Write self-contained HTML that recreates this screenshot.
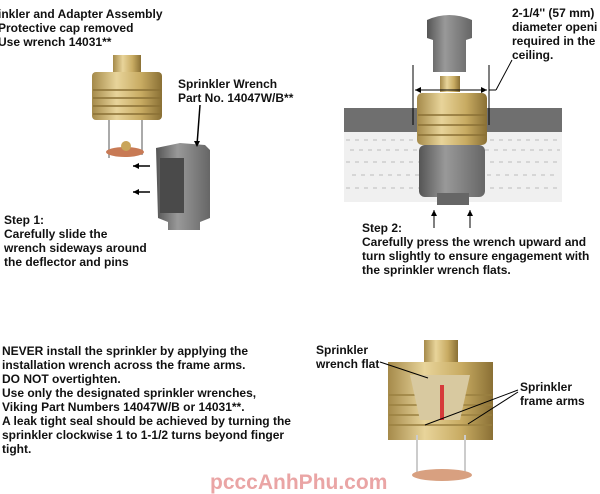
<!DOCTYPE html><html><head><style>
body{margin:0;width:600px;height:492px;background:#fff;position:relative;overflow:hidden;font-family:"Liberation Sans",Arial,sans-serif;font-weight:bold;font-size:12px;color:#111}
.t{position:absolute;line-height:14px;white-space:nowrap}
svg{position:absolute;left:0;top:0}
</style></head><body>
<svg width="600" height="492">
<defs>
<linearGradient id="br" x1="0" x2="1"><stop offset="0" stop-color="#a58a4a"/><stop offset=".35" stop-color="#e8d49a"/><stop offset=".7" stop-color="#c8ab62"/><stop offset="1" stop-color="#8a7035"/></linearGradient>
<linearGradient id="gr" x1="0" x2="1"><stop offset="0" stop-color="#555"/><stop offset=".4" stop-color="#999"/><stop offset="1" stop-color="#666"/></linearGradient>
</defs>
<rect x="113" y="55" width="28" height="18" fill="url(#br)"/>
<rect x="92" y="72" width="70" height="48" rx="4" fill="url(#br)"/>
<g stroke="#8a7035" stroke-width="1.5"><line x1="93" y1="90" x2="161" y2="90"/><line x1="93" y1="98" x2="161" y2="98"/><line x1="93" y1="106" x2="161" y2="106"/><line x1="93" y1="114" x2="161" y2="114"/></g>
<line x1="109" y1="120" x2="109" y2="158" stroke="#aaa" stroke-width="2"/><line x1="142" y1="120" x2="142" y2="155" stroke="#aaa" stroke-width="2"/>
<ellipse cx="125" cy="152" rx="19" ry="5" fill="#c87a55"/><circle cx="126" cy="146" r="5" fill="#c9a55a"/>
<path d="M156 148 L180 143 L205 145 L210 150 L210 218 L200 222 L200 230 L168 230 L168 222 L158 218 Z" fill="url(#gr)"/>
<rect x="160" y="158" width="24" height="55" fill="#4a4a4a"/>
<g stroke="#000" stroke-width="1.5"><line x1="133" y1="166" x2="150" y2="166"/><line x1="133" y1="192" x2="150" y2="192"/><line x1="200" y1="105" x2="197" y2="145"/></g>
<path d="M133 166 l6 -3 v6z M133 192 l6 -3 v6z M197 147 l-3 -6 h6z" fill="#000"/>
<rect x="344" y="108" width="218" height="24" fill="#6f6f6f"/>
<rect x="344" y="132" width="218" height="70" fill="#f0f0f0"/>
<g stroke="#bbb" stroke-width="1" stroke-dasharray="4 5"><line x1="346" y1="140" x2="560" y2="140"/><line x1="350" y1="150" x2="560" y2="150"/><line x1="346" y1="162" x2="560" y2="162"/><line x1="352" y1="175" x2="558" y2="175"/><line x1="346" y1="188" x2="560" y2="188"/></g>
<path d="M427 20 Q449 10 472 20 L472 38 L466 40 L466 72 L433 72 L433 40 L427 38 Z" fill="url(#gr)"/>
<rect x="440" y="76" width="20" height="16" fill="url(#br)"/>
<rect x="417" y="93" width="70" height="52" rx="5" fill="url(#br)"/>
<g stroke="#8a7035" stroke-width="1.5"><line x1="418" y1="115" x2="486" y2="115"/><line x1="418" y1="125" x2="486" y2="125"/><line x1="418" y1="135" x2="486" y2="135"/></g>
<rect x="419" y="145" width="66" height="52" rx="6" fill="url(#gr)"/>
<rect x="437" y="193" width="32" height="12" fill="#666"/>
<g stroke="#000" stroke-width="1"><line x1="413" y1="65" x2="413" y2="125"/><line x1="489" y1="65" x2="489" y2="125"/><line x1="415" y1="90" x2="487" y2="90"/><line x1="489" y1="90" x2="496" y2="90"/><line x1="496" y1="90" x2="512" y2="60"/><line x1="434" y1="210" x2="434" y2="228"/><line x1="470" y1="210" x2="470" y2="228"/></g>
<path d="M415 90 l6 -3 v6z M487 90 l-6 -3 v6z M434 210 l-3 6 h6z M470 210 l-3 6 h6z" fill="#000"/>
<rect x="424" y="340" width="34" height="22" fill="url(#br)"/>
<path d="M388 362 L493 362 L493 440 L388 440 Z" fill="url(#br)"/>
<g stroke="#9a8040" stroke-width="1.5"><line x1="389" y1="395" x2="492" y2="395"/><line x1="389" y1="405" x2="492" y2="405"/><line x1="389" y1="415" x2="492" y2="415"/><line x1="389" y1="425" x2="492" y2="425"/></g>
<path d="M410 375 L470 375 L460 420 L420 420Z" fill="#d8c9a0"/>
<rect x="440" y="385" width="4" height="35" fill="#d63a3a"/>
<line x1="417" y1="435" x2="417" y2="478" stroke="#ccc" stroke-width="2"/><line x1="465" y1="435" x2="465" y2="478" stroke="#ccc" stroke-width="2"/>
<ellipse cx="442" cy="475" rx="30" ry="6" fill="#d8a080"/>
<g stroke="#000" stroke-width="1"><line x1="380" y1="362" x2="428" y2="378"/><line x1="518" y1="390" x2="425" y2="425"/><line x1="518" y1="392" x2="468" y2="424"/></g>
</svg>
<div class="t" style="left:-2px;top:7px">inkler and Adapter Assembly<br>Protective cap removed<br>Use wrench 14031**</div>
<div class="t" style="left:178px;top:77px">Sprinkler Wrench<br>Part No. 14047W/B**</div>
<div class="t" style="left:4px;top:213px">Step 1:<br>Carefully slide the<br>wrench sideways around<br>the deflector and pins</div>
<div class="t" style="left:512px;top:6px">2-1/4'' (57 mm)<br>diameter openi<br>required in the<br>ceiling.</div>
<div class="t" style="left:362px;top:221px">Step 2:<br>Carefully press the wrench upward and<br>turn slightly to ensure engagement with<br>the sprinkler wrench flats.</div>
<div class="t" style="left:2px;top:344px">NEVER install the sprinkler by applying the<br>installation wrench across the frame arms.<br>DO NOT overtighten.<br>Use only the designated sprinkler wrenches,<br>Viking Part Numbers 14047W/B or 14031**.<br>A leak tight seal should be achieved by turning the<br>sprinkler clockwise 1 to 1-1/2 turns beyond finger<br>tight.</div>
<div class="t" style="left:316px;top:343px">Sprinkler<br>wrench flat</div>
<div class="t" style="left:520px;top:380px">Sprinkler<br>frame arms</div>
<div class="t" style="left:210px;top:472px;font-size:21px;line-height:22px;color:#eaa5a5">pcccAnhPhu.com</div>
</body></html>
